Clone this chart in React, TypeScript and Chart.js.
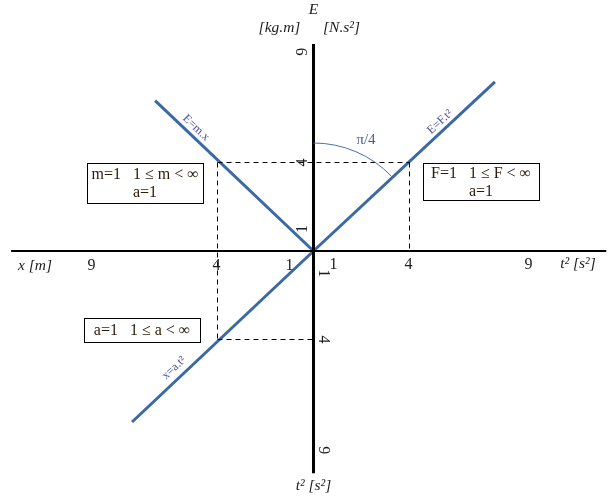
import React, { useEffect, useRef } from "react";
import { Chart, registerables } from "chart.js";

Chart.register(...registerables);

// Lines (data units: x -> t² or x, y -> E or t²)
const lineEmx = [{ x: 0, y: 0 }, { x: -6.6, y: 6.8 }];
const lineEFt = [{ x: 0, y: 0 }, { x: 7.56, y: 7.64 }];
const lineXat = [{ x: 0, y: 0 }, { x: -7.56, y: -7.73 }];

// Axes extents
const hAxis = [{ x: -12.6, y: 0 }, { x: 12.2, y: 0 }];
const vAxis = [{ x: 0, y: 9.36 }, { x: 0, y: -10.05 }];

// Dashed guides
const guide1 = [{ x: -4, y: 4 }, { x: -4, y: -4 }];
const guide2 = [{ x: -4, y: 4 }, { x: 4, y: 4 }];
const guide3 = [{ x: 4, y: 4 }, { x: 4, y: 0 }];
const guide4 = [{ x: -4, y: -4 }, { x: 0, y: -4 }];

// Tick labels
const hTicksLeft = [9, 4, 1];
const hTicksRight = [1, 4, 9];
const vTicksUp = [9, 4, 1];
const vTicksDown = [1, 4, 9];

const BLUE = "#3a69a6";
const TXT = "#1c1c1c";
const BOXTXT = "#2a1c08";
const SERIF = "'Liberation Serif', 'DejaVu Serif', serif";

function txt(ctx: CanvasRenderingContext2D, s: string, x: number, y: number, opt: any = {}) {
  ctx.save();
  ctx.font = opt.font || `15px ${SERIF}`;
  ctx.fillStyle = opt.color || TXT;
  ctx.textAlign = opt.align || "center";
  ctx.textBaseline = opt.baseline || "middle";
  ctx.translate(x, y);
  if (opt.rot) ctx.rotate(opt.rot);
  ctx.fillText(s, 0, 0);
  ctx.restore();
}

const annotations = {
  id: "annotations",
  afterDatasetsDraw(chart: any) {
    const ctx = chart.ctx as CanvasRenderingContext2D;
    const xs = chart.scales.x;
    const ys = chart.scales.y;
    const X = (v: number) => xs.getPixelForValue(v);
    const Y = (v: number) => ys.getPixelForValue(v);
    const ox = X(0);
    const oy = Y(0);

    // horizontal tick labels
    hTicksLeft.forEach((v) => txt(ctx, String(v), X(-v) - (v === 9 ? 6 : v === 4 ? 1 : 0), oy + 15, { font: `16px ${SERIF}` }));
    hTicksRight.forEach((v) => txt(ctx, String(v), X(v) - (v === 1 ? 4 : 1), oy + 14, { font: `16px ${SERIF}` }));
    // vertical tick labels (rotated)
    vTicksUp.forEach((v) => txt(ctx, String(v), ox - 11, Y(v), { rot: -Math.PI / 2, font: `16px ${SERIF}` }));
    vTicksDown.forEach((v) => txt(ctx, String(v), ox + 10, Y(-v), { rot: Math.PI / 2, font: `16px ${SERIF}` }));

    // axis titles
    const it = `italic 15.5px ${SERIF}`;
    txt(ctx, "E", ox, 10, { font: it });
    txt(ctx, "[kg.m]", ox - 34, 28, { font: it });
    txt(ctx, "[N.s²]", ox + 28, 28, { font: it });
    txt(ctx, "x [m]", 35, oy + 15, { font: it });
    txt(ctx, "t² [s²]", 578, oy + 13, { font: it });
    txt(ctx, "t² [s²]", ox, 486, { font: it });

    // line labels
    const lf = `12px ${SERIF}`;
    const lc = "#4d4f9c";
    txt(ctx, "E=m.x", 196, 128, { font: lf, color: lc, rot: (44 * Math.PI) / 180 });
    txt(ctx, "E=F.t²", 440, 122, { font: lf, color: lc, rot: (-43 * Math.PI) / 180 });
    txt(ctx, "x=a.t²", 174, 368, { font: lf, color: lc, rot: (-43 * Math.PI) / 180 });

    // angle arc
    ctx.save();
    ctx.strokeStyle = "#4a72a8";
    ctx.lineWidth = 1;
    ctx.beginPath();
    ctx.arc(ox, oy, 108, -Math.PI / 2, -Math.PI / 4 + 0.02);
    ctx.stroke();
    ctx.restore();
    txt(ctx, "π/4", 366, 140, { font: `15px ${SERIF}`, color: "#4d5a96" });

    // boxes
    const bf = `16px ${SERIF}`;
    const box = (x: number, y: number, w: number, h: number, lines: string[]) => {
      ctx.save();
      ctx.fillStyle = "#fff";
      ctx.fillRect(x, y, w, h);
      ctx.strokeStyle = "#000";
      ctx.lineWidth = 1;
      ctx.strokeRect(x + 0.5, y + 0.5, w, h);
      ctx.restore();
      const cx = x + w / 2;
      if (lines.length === 1) txt(ctx, lines[0], cx, y + h / 2 + 1, { font: bf, color: BOXTXT });
      else {
        txt(ctx, lines[0], cx, y + h / 2 - 8, { font: bf, color: BOXTXT });
        txt(ctx, lines[1], cx, y + h / 2 + 10, { font: bf, color: BOXTXT });
      }
    };
    box(87, 163, 116, 40, ["m=1   1 ≤ m < ∞", "a=1"]);
    box(423, 163, 116, 37, ["F=1   1 ≤ F < ∞", "a=1"]);
    box(84, 318, 116, 24, ["a=1   1 ≤ a < ∞"]);
  },
};

export default function App() {
  const ref = useRef<HTMLCanvasElement>(null);
  useEffect(() => {
    if (!ref.current) return;
    const lineDs = (data: any[], color: string, width: number, dash: number[] = []) => ({
      data,
      showLine: true,
      borderColor: color,
      backgroundColor: color,
      borderWidth: width,
      borderDash: dash,
      pointRadius: 0,
      pointHoverRadius: 0,
      fill: false,
    });
    const chart = new Chart(ref.current, {
      type: "scatter",
      data: {
        datasets: [
          lineDs(guide1, "#000", 1, [5, 4]),
          lineDs(guide2, "#000", 1, [5, 4]),
          lineDs(guide3, "#000", 1, [5, 4]),
          lineDs(guide4, "#000", 1, [5, 4]),
          lineDs(hAxis, "#000", 2),
          lineDs(vAxis, "#000", 3),
          lineDs(lineEmx, BLUE, 3),
          lineDs(lineEFt, BLUE, 3),
          lineDs(lineXat, BLUE, 3),
        ] as any,
      },
      options: {
        animation: false,
        responsive: false,
        devicePixelRatio: 1,
        layout: { padding: 0 },
        plugins: { legend: { display: false }, tooltip: { enabled: false } },
        scales: {
          x: { type: "linear", display: false, min: -13.0625, max: 12.6042 },
          y: { type: "linear", display: false, min: -11.2090, max: 11.3446 },
        },
      },
      plugins: [annotations],
    });
    return () => chart.destroy();
  }, []);
  return (
    <div style={{ position: "absolute", left: 0, top: 0, width: 616, height: 499 }}>
      <canvas ref={ref} width={616} height={499} style={{ display: "block" }} />
    </div>
  );
}
